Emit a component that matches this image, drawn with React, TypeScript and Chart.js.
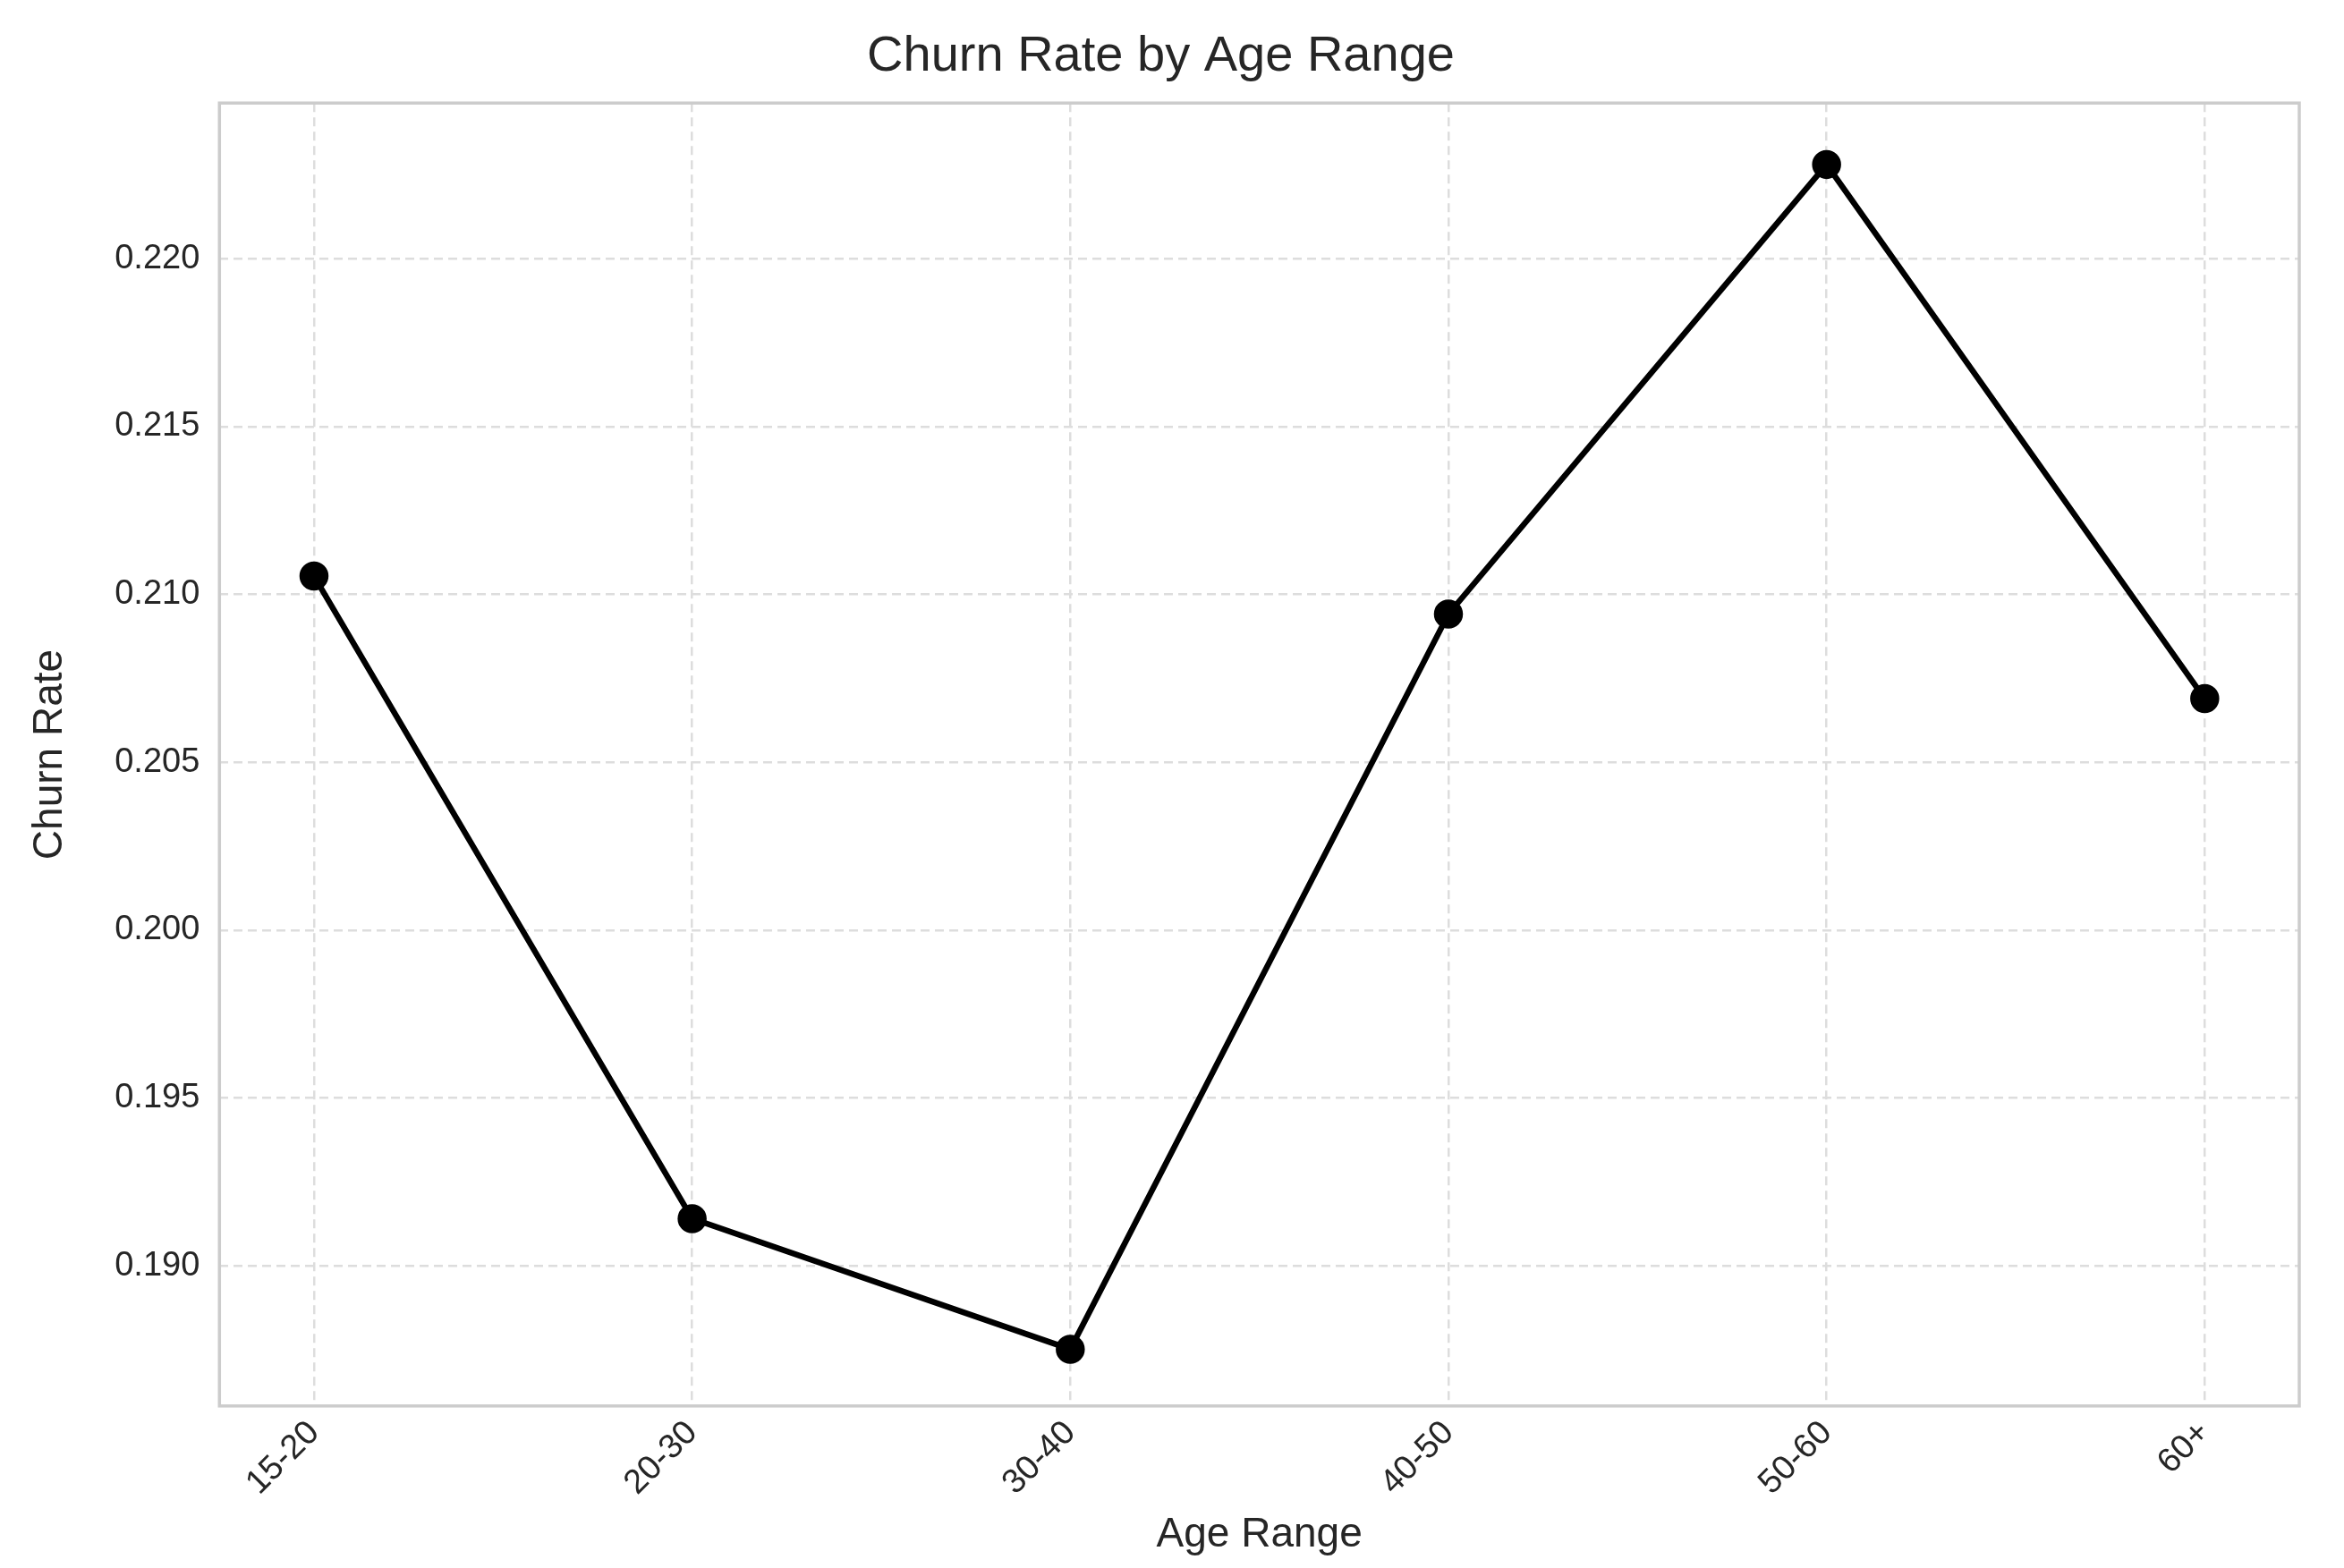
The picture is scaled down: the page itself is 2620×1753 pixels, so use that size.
import React, { useEffect, useRef } from "react";
import Chart from "chart.js/auto";

const ageRanges = ["15-20", "20-30", "30-40", "40-50", "50-60", "60+"];
const churnRates = [0.21055, 0.19141, 0.18752, 0.20942, 0.22281, 0.2069];
const yTicks = [0.19, 0.195, 0.2, 0.205, 0.21, 0.215, 0.22];

const FONT = "'Liberation Sans', Arial, sans-serif";
const TEXT = "#262626";

const frame = {
  id: "frame",
  afterDraw(chart: any) {
    const { ctx, chartArea: a } = chart;
    ctx.save();
    ctx.strokeStyle = "#cccccc";
    ctx.lineWidth = 3.5;
    ctx.strokeRect(a.left, a.top, a.right - a.left, a.bottom - a.top);
    ctx.restore();
  },
};

const App = () => {
  const ref = useRef<HTMLCanvasElement>(null);

  useEffect(() => {
    if (!ref.current) return;
    const chart = new Chart(ref.current, {
      type: "line",
      data: {
        datasets: [
          {
            data: churnRates.map((v, i) => ({ x: i, y: v })),
            borderColor: "#000",
            backgroundColor: "#000",
            borderWidth: 6.5,
            pointRadius: 13,
            pointHoverRadius: 13,
            tension: 0,
          },
        ],
      },
      options: {
        animation: false,
        responsive: true,
        maintainAspectRatio: false,
        devicePixelRatio: 1,
        layout: { padding: { left: 25, top: 10, right: 50, bottom: 5 } },
        plugins: {
          legend: { display: false },
          tooltip: { enabled: false },
          title: {
            display: true,
            text: "Churn Rate by Age Range",
            color: TEXT,
            font: { family: FONT, size: 56, weight: "normal" },
            padding: { top: 20, bottom: 18 },
          },
        },
        scales: {
          x: {
            type: "linear",
            min: -0.25,
            max: 5.25,
            afterBuildTicks: (s: any) => {
              s.ticks = ageRanges.map((_, i) => ({ value: i }));
            },
            ticks: {
              callback: (v: any) => ageRanges[v],
              color: TEXT,
              font: { family: FONT, size: 38 },
              minRotation: 45,
              maxRotation: 45,
              padding: 8,
            },
            grid: { color: "#dddddd", lineWidth: 2.5, drawTicks: false },
            border: { display: false, dash: [10, 6] },
            title: {
              display: true,
              text: "Age Range",
              color: TEXT,
              font: { family: FONT, size: 46 },
              padding: { top: 0 },
            },
          },
          y: {
            min: 0.18583,
            max: 0.22464,
            afterBuildTicks: (s: any) => {
              s.ticks = yTicks.map((v) => ({ value: v }));
            },
            ticks: {
              callback: (v: any) => Number(v).toFixed(3),
              color: TEXT,
              font: { family: FONT, size: 38 },
              padding: 22,
            },
            grid: { color: "#dddddd", lineWidth: 2.5, drawTicks: false },
            border: { display: false, dash: [10, 6] },
            title: {
              display: true,
              text: "Churn Rate",
              color: TEXT,
              font: { family: FONT, size: 46 },
              padding: { bottom: 22 },
            },
          },
        },
      },
      plugins: [frame],
    });
    return () => chart.destroy();
  }, []);

  return (
    <div style={{ position: "fixed", left: 0, top: 0, width: 2620, height: 1753, background: "#fff" }}>
      <canvas ref={ref}></canvas>
    </div>
  );
};

export default App;
